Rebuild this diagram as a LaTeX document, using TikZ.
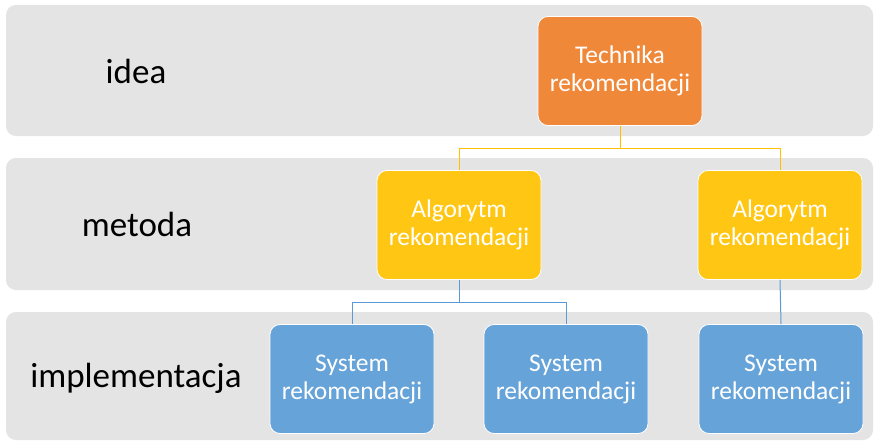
\documentclass[tikz,border=0pt]{standalone}
\usepackage{fontspec}
\setmainfont{Carlito}
\definecolor{bandgray}{HTML}{E3E4E3}
\definecolor{orangebox}{HTML}{F0883A}
\definecolor{yellowbox}{HTML}{FFC713}
\definecolor{bluebox}{HTML}{66A3D8}
\definecolor{yellowline}{HTML}{FFC000}
\definecolor{blueline}{HTML}{5B9BD5}
\begin{document}
\begin{tikzpicture}[x=1pt,y=-1pt,
  band/.style={fill=bandgray,rounded corners=10pt},
  box/.style={draw=white,line width=0.8pt,rounded corners=10pt,minimum width=164pt,minimum height=109pt,
    text=white,font=\fontsize{25.5}{28}\selectfont,align=center,inner sep=0pt},
  lvl/.style={font=\fontsize{35}{40}\selectfont,text=black},
  yconn/.style={draw=yellowline,line width=1pt},
  bconn/.style={draw=blueline,line width=1pt}]
\useasboundingbox (0,0) rectangle (874,444);
\fill[white] (0,0) rectangle (874,444);
\fill[band] (6,5) rectangle (873,136);
\fill[band] (6,158) rectangle (873,290);
\fill[band] (6,312) rectangle (873,440);
\node[lvl] (l1) at (136,71) {idea};
\node[lvl] (l2) at (137,224) {metoda};
\node[lvl] (l3) at (136,378) {implementacja};
\node[box,fill=orangebox] (t) at (620,71) {Technika\\rekomendacji};
\node[box,fill=yellowbox] (a1) at (459,225) {Algorytm\\rekomendacji};
\node[box,fill=yellowbox] (a2) at (780,225) {Algorytm\\rekomendacji};
\node[box,fill=bluebox] (s1) at (352,379) {System\\rekomendacji};
\node[box,fill=bluebox] (s2) at (566,379) {System\\rekomendacji};
\node[box,fill=bluebox] (s3) at (781,379) {System\\rekomendacji};
\draw[yconn] (t.south) |- (459,148) -- (a1.north);
\draw[yconn] (t.south) |- (780,148) -- (a2.north);
\draw[bconn] (a1.south) |- (352,302) -- (s1.north);
\draw[bconn] (a1.south) |- (566,302) -- (s2.north);
\draw[bconn] (a2.south) -- (s3.north);
\end{tikzpicture}
\end{document}
